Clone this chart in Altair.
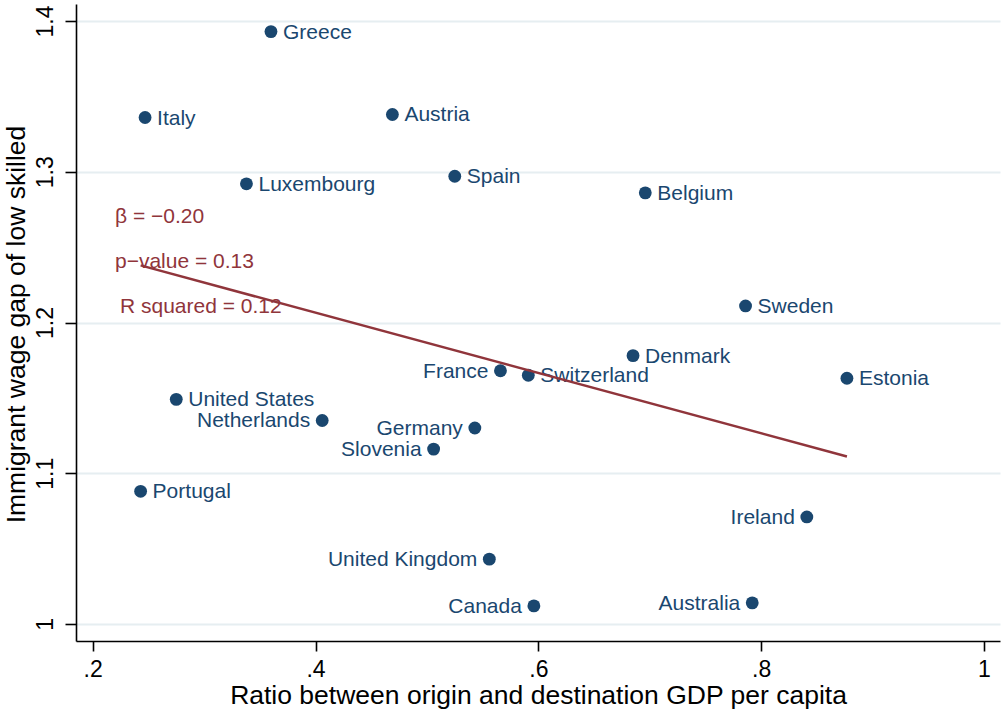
import altair as alt
import pandas as pd

# Country-level observations
COUNTRIES = [
    "Greece", "Italy", "Austria", "Luxembourg", "Spain", "Belgium", "Sweden",
    "Denmark", "France", "Switzerland", "Estonia", "United States",
    "Netherlands", "Germany", "Slovenia", "Portugal", "Ireland",
    "United Kingdom", "Canada", "Australia",
]
GDP_RATIO = [
    0.360, 0.247, 0.469, 0.338, 0.525, 0.696, 0.786,
    0.685, 0.566, 0.591, 0.877, 0.275,
    0.406, 0.543, 0.506, 0.243, 0.841,
    0.556, 0.596, 0.792,
]
WAGE_GAP = [
    1.393, 1.336, 1.338, 1.292, 1.297, 1.286, 1.211,
    1.178, 1.168, 1.165, 1.163, 1.149,
    1.135, 1.130, 1.116, 1.088, 1.071,
    1.043, 1.012, 1.014,
]
# Countries whose marker label sits to the left of the dot
LABEL_LEFT = ["France", "Netherlands", "Germany", "Slovenia", "Ireland",
              "United Kingdom", "Canada", "Australia"]

# Linear fit
BETA = -0.20
INTERCEPT = 1.2865

# Regression statistics shown in the plot
STATS_TEXT = ["β = −0.20", "p−value = 0.13", "R squared = 0.12"]
STATS_X = [0.220, 0.220, 0.2245]
STATS_Y = [1.270, 1.240, 1.210]

X_TICKS = [0.2, 0.4, 0.6, 0.8, 1.0]
X_TICK_LABELS = [".2", ".4", ".6", ".8", "1"]
Y_TICKS = [1.0, 1.1, 1.2, 1.3, 1.4]
Y_TICK_LABELS = ["1", "1.1", "1.2", "1.3", "1.4"]

NAVY = "#1A476F"
CRANBERRY = "#90353B"
FONT = "Liberation Sans"

pts = pd.DataFrame({"country": COUNTRIES, "ratio": GDP_RATIO, "gap": WAGE_GAP})
pts["left"] = pts["country"].isin(LABEL_LEFT)

xmin, xmax = min(GDP_RATIO), max(GDP_RATIO)
fit = pd.DataFrame({"ratio": [xmin, xmax],
                    "gap": [INTERCEPT + BETA * xmin, INTERCEPT + BETA * xmax]})
stats = pd.DataFrame({"txt": STATS_TEXT, "ratio": STATS_X, "gap": STATS_Y})


def lookup_expr(values, labels):
    vals = "[" + ",".join(repr(v) for v in values) + "]"
    labs = "[" + ",".join("'" + s + "'" for s in labels) + "]"
    return f"{labs}[indexof({vals}, datum.value)]"


x_enc = alt.X(
    "ratio:Q",
    scale=alt.Scale(domain=[0.185, 1.0144], nice=False, zero=False),
    axis=alt.Axis(
        values=X_TICKS,
        labelExpr=lookup_expr(X_TICKS, X_TICK_LABELS),
        title="Ratio between origin and destination GDP per capita",
        grid=False,
        tickSize=10,
        labelPadding=7,
        labelFontSize=23,
        titleFontSize=26.5,
        titleX=462,
        titleY=62,
        titleAlign="center",
        titleBaseline="alphabetic",
    ),
)
y_enc = alt.Y(
    "gap:Q",
    scale=alt.Scale(domain=[0.9887, 1.4113], nice=False, zero=False),
    axis=alt.Axis(
        values=Y_TICKS,
        labelExpr=lookup_expr(Y_TICKS, Y_TICK_LABELS),
        title="Immigrant wage gap of low skilled",
        grid=True,
        tickSize=11,
        labelPadding=13,
        labelFontSize=23,
        labelAngle=270,
        labelAlign="center",
        labelBaseline="alphabetic",
        titleFontSize=26.5,
        titleAngle=270,
        titleX=-52,
        titleY=320,
        titleAlign="center",
        titleBaseline="alphabetic",
    ),
)

base = alt.Chart(pts)

dots = base.mark_circle(size=165, color=NAVY, opacity=1).encode(x=x_enc, y=y_enc)

labels_right = base.transform_filter("!datum.left").mark_text(
    align="left", baseline="middle", dx=12, dy=1, fontSize=21, font=FONT, color=NAVY
).encode(x="ratio:Q", y="gap:Q", text="country:N")

labels_left = base.transform_filter("datum.left").mark_text(
    align="right", baseline="middle", dx=-12, dy=1, fontSize=21, font=FONT, color=NAVY
).encode(x="ratio:Q", y="gap:Q", text="country:N")

fit_line = alt.Chart(fit).mark_line(color=CRANBERRY, strokeWidth=2.5).encode(
    x="ratio:Q", y="gap:Q"
)

stat_text = alt.Chart(stats).mark_text(
    align="left", baseline="middle", fontSize=21, font=FONT, color=CRANBERRY
).encode(x="ratio:Q", y="gap:Q", text="txt:N")

chart = (
    alt.layer(dots, labels_right, labels_left, fit_line, stat_text)
    .properties(
        width=924,
        height=637,
        autosize=alt.AutoSizeParams(type="none"),
        padding={"left": 76, "top": 4, "right": 3, "bottom": 69},
        background="white",
    )
    .configure_view(stroke=None)
    .configure_axis(
        domainColor="black",
        domainWidth=1.6,
        tickColor="black",
        tickWidth=1.6,
        labelColor="black",
        titleColor="black",
        labelFont=FONT,
        titleFont=FONT,
        titleFontWeight="normal",
        gridColor="#E6EEF1",
        gridWidth=2,
    )
)

chart.save("out.html", embed_options={"renderer": "svg", "actions": False})
